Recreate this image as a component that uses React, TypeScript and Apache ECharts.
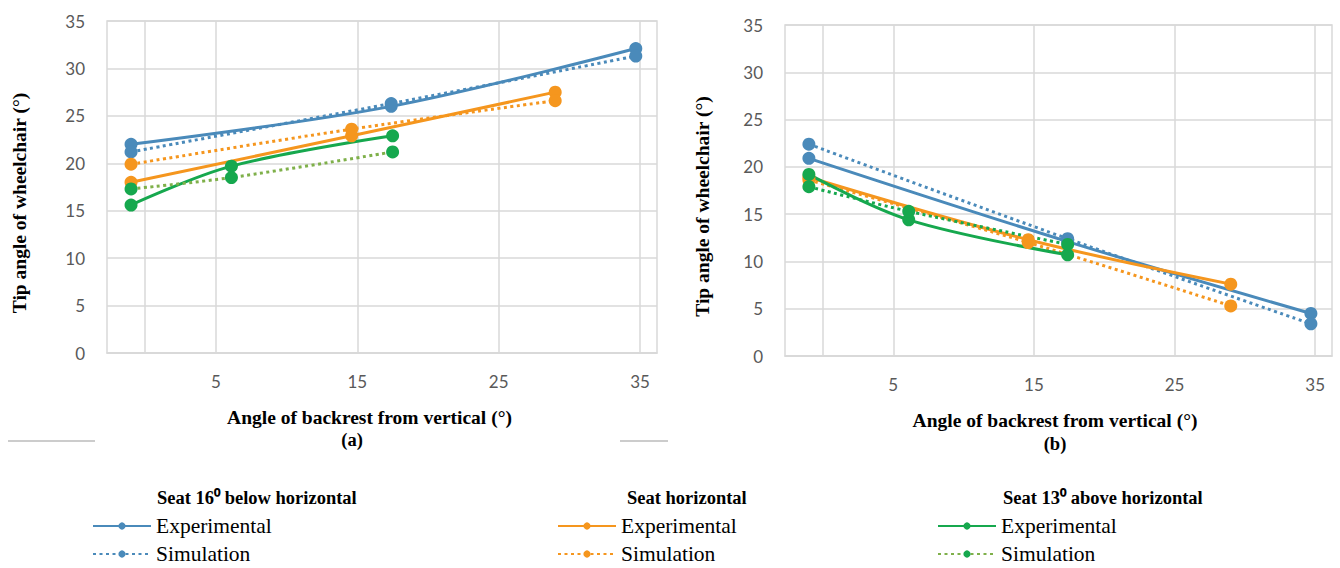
import React, { useEffect, useRef } from "react";
import * as echarts from "echarts";

// ---- Data ----
const xTickValues = [5, 15, 25, 35];
const seriesNames = ["bExp", "bSim", "oExp", "oSim", "gExp", "gSim"];
const legendLabels = ["Experimental", "Simulation"];
const groupTitles = ["Seat 16\u2070 below horizontal", "Seat horizontal", "Seat 13\u2070 above horizontal"];

// Chart (a): seat angle variants vs backrest angle
const aBlueX = [-1.0, 17.4, 34.7];
const aBlueExp = [22.0, 26.0, 32.1];
const aBlueSim = [21.2, 26.3, 31.3];
const aOrangeX = [-1.0, 14.6, 29.0];
const aOrangeExp = [18.0, 22.9, 27.5];
const aOrangeSim = [19.9, 23.6, 26.6];
const aGreenX = [-1.0, 6.1, 17.5];
const aGreenExp = [15.6, 19.7, 22.9];
const aGreenSim = [17.3, 18.5, 21.2];

// Chart (b)
const bBlueX = [-1.0, 17.4, 34.7];
const bBlueExp = [20.9, 12.1, 4.5];
const bBlueSim = [22.4, 12.4, 3.4];
const bOrangeX = [-1.0, 14.6, 29.0];
const bOrangeExp = [18.9, 12.3, 7.6];
const bOrangeSim = [18.6, 12.0, 5.3];
const bGreenX = [-1.0, 6.1, 17.4];
const bGreenExp = [19.2, 14.4, 10.7];
const bGreenSim = [17.9, 15.3, 11.8];

const BLUE = "#4a8aba";
const ORANGE = "#f5961e";
const GREEN = "#16a84e";
const GRID_C = "#d9d9d9";
const SERIF = "'Liberation Serif', 'Times New Roman', serif";

function mk(name: string, xs: number[], ys: number[], color: string, dotted: boolean, idx: number, lineColor?: string) {
  return {
    type: "line",
    name,
    xAxisIndex: idx,
    yAxisIndex: idx,
    data: xs.map((x, i) => [x, ys[i]]),
    smooth: 0.35,
    symbol: "circle",
    symbolSize: 13,
    itemStyle: { color },
    lineStyle: { color: lineColor || color, width: 3, type: dotted ? [3, 3.5] : "solid" },
    emphasis: { disabled: true },
  };
}

function xAxis(idx: number, padRight: number) {
  return {
    type: "value",
    gridIndex: idx,
    min: -2.7,
    max: 36.2,
    name: "Angle of backrest from vertical (\u00b0)",
    nameLocation: "middle",
    nameGap: 54,
    nameTextStyle: { fontFamily: SERIF, fontWeight: "bold", fontSize: 19.5, color: "#000", padding: [0, padRight, 0, 0] },
    axisLine: { show: true, lineStyle: { color: GRID_C, width: 1.5 } },
    axisTick: { show: false, customValues: xTickValues },
    axisLabel: { customValues: xTickValues, margin: 20, fontFamily: "Lato", fontSize: 17, color: "#595959" },
    splitLine: { show: true, lineStyle: { color: GRID_C, width: 1.5 } },
  };
}

function yAxis(idx: number, gap: number) {
  return {
    type: "value",
    gridIndex: idx,
    min: 0,
    max: 35,
    interval: 5,
    name: "Tip angle of wheelchair (\u00b0)",
    nameLocation: "middle",
    nameRotate: 90,
    nameGap: gap,
    nameTextStyle: { fontFamily: SERIF, fontWeight: "bold", fontSize: 19.5, color: "#000", padding: [0, 32, 0, 0] },
    axisLine: { show: true, lineStyle: { color: GRID_C, width: 1.5 } },
    axisTick: { show: false },
    axisLabel: { margin: 22, fontFamily: "Lato", fontSize: 17, color: "#595959" },
    splitLine: { show: true, lineStyle: { color: GRID_C, width: 1.5 } },
  };
}

function legend(data: string[], left: number) {
  return {
    data,
    left,
    top: 515,
    height: 60,
    padding: 0,
    orient: "vertical",
    itemWidth: 58,
    itemHeight: 9,
    itemGap: 6,
    selectedMode: false,
    textStyle: { fontFamily: SERIF, fontSize: 21.5, color: "#000" },
    formatter: (n: string) => (n.endsWith("Exp") ? legendLabels[0] : legendLabels[1]),
  };
}

export default function App() {
  const ref = useRef<HTMLDivElement>(null);
  useEffect(() => {
    if (!ref.current) return;
    const chart = echarts.init(ref.current, undefined, { renderer: "svg" });
    const titleFont = `bold 18.5px ${SERIF}`;
    chart.setOption({
      animation: false,
      grid: [
        { left: 107, top: 21, width: 550, height: 332, show: true, borderColor: GRID_C, borderWidth: 1.5, backgroundColor: "transparent" },
        { left: 785, top: 25, width: 547, height: 331, show: true, borderColor: GRID_C, borderWidth: 1.5, backgroundColor: "transparent" },
      ],
      xAxis: [xAxis(0, 25), xAxis(1, 7)],
      yAxis: [yAxis(0, 78), yAxis(1, 73)],
      legend: [
        legend([seriesNames[0], seriesNames[1]], 92),
        legend([seriesNames[2], seriesNames[3]], 557),
        legend([seriesNames[4], seriesNames[5]], 937),
      ],
      series: [
        mk(seriesNames[0], aBlueX, aBlueExp, BLUE, false, 0),
        mk(seriesNames[1], aBlueX, aBlueSim, BLUE, true, 0),
        mk(seriesNames[2], aOrangeX, aOrangeExp, ORANGE, false, 0),
        mk(seriesNames[3], aOrangeX, aOrangeSim, ORANGE, true, 0),
        mk(seriesNames[4], aGreenX, aGreenExp, GREEN, false, 0),
        mk(seriesNames[5], aGreenX, aGreenSim, GREEN, true, 0, "#7fb04a"),
        mk(seriesNames[0], bBlueX, bBlueExp, BLUE, false, 1),
        mk(seriesNames[1], bBlueX, bBlueSim, BLUE, true, 1),
        mk(seriesNames[2], bOrangeX, bOrangeExp, ORANGE, false, 1),
        mk(seriesNames[3], bOrangeX, bOrangeSim, ORANGE, true, 1),
        mk(seriesNames[4], bGreenX, bGreenExp, GREEN, false, 1),
        mk(seriesNames[5], bGreenX, bGreenSim, GREEN, true, 1),
      ],
      graphic: [
        { type: "text", x: 157, y: 498, style: { text: groupTitles[0], font: titleFont, fill: "#000", textVerticalAlign: "middle" } },
        { type: "text", x: 627, y: 498, style: { text: groupTitles[1], font: titleFont, fill: "#000", textVerticalAlign: "middle" } },
        { type: "text", x: 1003, y: 498, style: { text: groupTitles[2], font: titleFont, fill: "#000", textVerticalAlign: "middle" } },
        { type: "text", x: 352, y: 440, style: { text: "(a)", font: `bold 18.5px ${SERIF}`, fill: "#000", textAlign: "center", textVerticalAlign: "middle" } },
        { type: "text", x: 1055, y: 444, style: { text: "(b)", font: `bold 18.5px ${SERIF}`, fill: "#000", textAlign: "center", textVerticalAlign: "middle" } },
        { type: "line", shape: { x1: 8, y1: 441, x2: 95, y2: 441 }, style: { stroke: "#999", lineWidth: 1 } },
        { type: "line", shape: { x1: 620, y1: 441, x2: 668, y2: 441 }, style: { stroke: "#999", lineWidth: 1 } },
      ],
    });
    return () => chart.dispose();
  }, []);
  return <div ref={ref} style={{ position: "fixed", left: 0, top: 0, width: 1340, height: 568, background: "#fff" }} />;
}
